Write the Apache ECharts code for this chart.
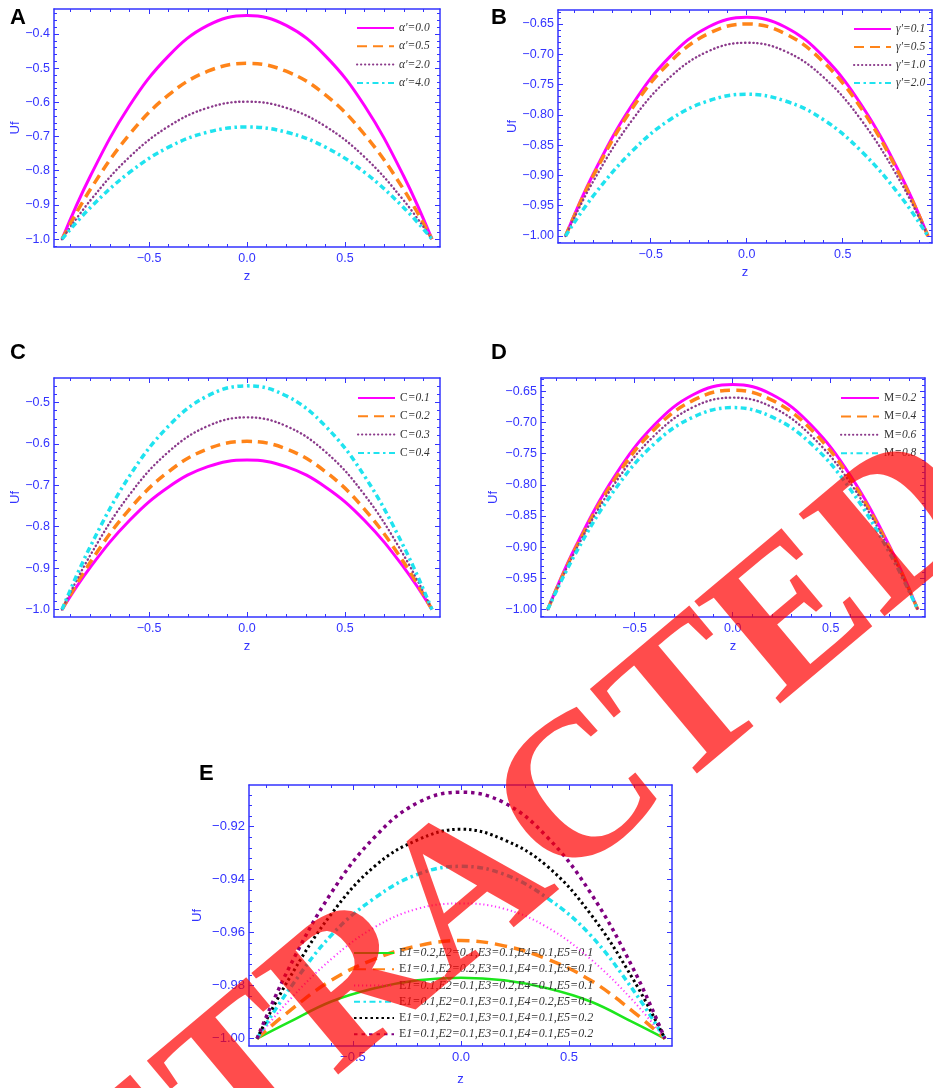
<!DOCTYPE html>
<html>
<head>
<meta charset="UTF-8">
<title>Uf profiles</title>
<script src="https://cdn.jsdelivr.net/npm/echarts@6/dist/echarts.min.js"></script>
<style>
html, body { margin: 0; padding: 0; background: #fff; }
#main { width: 933px; height: 1088px; }
</style>
</head>
<body>
<div id="main"></div>
<script>
var zPts = [-0.944, -0.8, -0.6, -0.4, -0.2, 0, 0.2, 0.4, 0.6, 0.8, 0.944];

// A : alpha'
var alphaNames = ["α'=0.0", "α'=0.5", "α'=2.0", "α'=4.0"];
var ufAlpha00 = [-1.0, -0.816, -0.610, -0.464, -0.375, -0.346, -0.375, -0.464, -0.610, -0.816, -1.0];
var ufAlpha05 = [-1.0, -0.855, -0.694, -0.578, -0.509, -0.486, -0.509, -0.578, -0.694, -0.855, -1.0];
var ufAlpha20 = [-1.0, -0.887, -0.760, -0.670, -0.616, -0.598, -0.616, -0.670, -0.760, -0.887, -1.0];
var ufAlpha40 = [-1.0, -0.908, -0.805, -0.731, -0.687, -0.672, -0.687, -0.731, -0.805, -0.908, -1.0];

// B : gamma'
var gammaNames = ["γ'=0.1", "γ'=0.5", "γ'=1.0", "γ'=2.0"];
var ufGamma01 = [-1.0, -0.898, -0.785, -0.704, -0.655, -0.639, -0.655, -0.704, -0.785, -0.898, -1.0];
var ufGamma05 = [-1.0, -0.901, -0.791, -0.713, -0.666, -0.650, -0.666, -0.713, -0.791, -0.901, -1.0];
var ufGamma10 = [-1.0, -0.910, -0.810, -0.738, -0.695, -0.681, -0.695, -0.738, -0.810, -0.910, -1.0];
var ufGamma20 = [-1.0, -0.934, -0.861, -0.808, -0.777, -0.766, -0.777, -0.808, -0.861, -0.934, -1.0];

// C
var cNames = ["C=0.1", "C=0.2", "C=0.3", "C=0.4"];
var ufC01 = [-1.0, -0.898, -0.785, -0.704, -0.655, -0.639, -0.655, -0.704, -0.785, -0.898, -1.0];
var ufC02 = [-1.0, -0.886, -0.758, -0.667, -0.612, -0.594, -0.612, -0.667, -0.758, -0.886, -1.0];
var ufC03 = [-1.0, -0.869, -0.723, -0.619, -0.557, -0.536, -0.557, -0.619, -0.723, -0.869, -1.0];
var ufC04 = [-1.0, -0.848, -0.678, -0.557, -0.484, -0.460, -0.484, -0.557, -0.678, -0.848, -1.0];

// D : M
var mNames = ["M=0.2", "M=0.4", "M=0.6", "M=0.8"];
var ufM02 = [-1.0, -0.898, -0.785, -0.704, -0.655, -0.639, -0.655, -0.704, -0.785, -0.898, -1.0];
var ufM04 = [-1.0, -0.901, -0.790, -0.711, -0.664, -0.648, -0.664, -0.711, -0.790, -0.901, -1.0];
var ufM06 = [-1.0, -0.904, -0.797, -0.721, -0.675, -0.660, -0.675, -0.721, -0.797, -0.904, -1.0];
var ufM08 = [-1.0, -0.909, -0.807, -0.734, -0.691, -0.676, -0.691, -0.734, -0.807, -0.909, -1.0];

// E : E1..E5 (last two labels are identical in the original, the trailing space keeps them apart)
var eNames = [
  "E1=0.2,E2=0.1,E3=0.1,E4=0.1,E5=0.1",
  "E1=0.1,E2=0.2,E3=0.1,E4=0.1,E5=0.1",
  "E1=0.1,E2=0.1,E3=0.2,E4=0.1,E5=0.1",
  "E1=0.1,E2=0.1,E3=0.1,E4=0.2,E5=0.1",
  "E1=0.1,E2=0.1,E3=0.1,E4=0.1,E5=0.2",
  "E1=0.1,E2=0.1,E3=0.1,E4=0.1,E5=0.2 "
];
var ufE1 = [-1.0, -0.994, -0.986, -0.981, -0.978, -0.977, -0.978, -0.981, -0.986, -0.994, -1.0];
var ufE2 = [-1.0, -0.990, -0.978, -0.970, -0.965, -0.963, -0.965, -0.970, -0.978, -0.990, -1.0];
var ufE3 = [-1.0, -0.986, -0.970, -0.958, -0.951, -0.949, -0.951, -0.958, -0.970, -0.986, -1.0];
var ufE4 = [-1.0, -0.982, -0.961, -0.947, -0.938, -0.935, -0.938, -0.947, -0.961, -0.982, -1.0];
var ufE5 = [-1.0, -0.978, -0.953, -0.935, -0.925, -0.921, -0.925, -0.935, -0.953, -0.978, -1.0];
var ufE6 = [-1.0, -0.974, -0.945, -0.924, -0.911, -0.907, -0.911, -0.924, -0.945, -0.974, -1.0];

// tick labels
var xTicks = [-0.5, 0, 0.5];
var yTicksA = [-1.0, -0.9, -0.8, -0.7, -0.6, -0.5, -0.4];
var yTicksB = [-1.0, -0.95, -0.9, -0.85, -0.8, -0.75, -0.7, -0.65];
var yTicksC = [-1.0, -0.9, -0.8, -0.7, -0.6, -0.5];
var yTicksD = [-1.0, -0.95, -0.9, -0.85, -0.8, -0.75, -0.7, -0.65];
var yTicksE = [-1.0, -0.98, -0.96, -0.94, -0.92];

var blue = '#3333ff';
var cMag = '#ff00ff', cOra = '#ff8419', cPur = '#8b3a8b', cCya = '#1fe3ef';

// line styles
var sSolid = { type: 'solid', width: 3 };
var sDash = { type: [10, 6], width: 3.5 };
var sDot = { type: [0.3, 3.7], width: 2.4, cap: 'round' };
var sDashDot = { type: [6, 3.5, 2.5, 3.5], width: 3.5 };

var panels = [
  { letter: 'A', names: alphaNames, data: [ufAlpha00, ufAlpha05, ufAlpha20, ufAlpha40],
    colors: [cMag, cOra, cPur, cCya], styles: [sSolid, sDash, sDot, sDashDot],
    yTicks: yTicksA, yDec: 1, yStep: 0.02, rich: false,
    grid: { left: 54, top: 9, width: 386, height: 238 }, x: [-0.985, 0.985], y: [-1.023, -0.327],
    leg: { left: 356, top: 22, w: 37, gap: 18.3, fs: 11.5 }, lab: [10, 7], zGap: 23, ufGap: 32.5, fs: 12.5 },
  { letter: 'B', names: gammaNames, data: [ufGamma01, ufGamma05, ufGamma10, ufGamma20],
    colors: [cMag, cOra, cPur, cCya], styles: [sSolid, sDash, sDot, sDashDot],
    yTicks: yTicksB, yDec: 2, yStep: 0.01, rich: false,
    grid: { left: 558, top: 10, width: 374, height: 233 }, x: [-0.983, 0.965], y: [-1.0115, -0.627],
    leg: { left: 853, top: 23, w: 37, gap: 18, fs: 11.5 }, lab: [491, 7], zGap: 23, ufGap: 37, fs: 12.5 },
  { letter: 'C', names: cNames, data: [ufC01, ufC02, ufC03, ufC04],
    colors: [cMag, cOra, cPur, cCya], styles: [sSolid, sDash, sDot, sDashDot],
    yTicks: yTicksC, yDec: 1, yStep: 0.02, rich: true,
    grid: { left: 54, top: 378, width: 386, height: 239 }, x: [-0.985, 0.985], y: [-1.018, -0.441],
    leg: { left: 357, top: 392, w: 37, gap: 18.3, fs: 11.5 }, lab: [10, 342], zGap: 23, ufGap: 32.5, fs: 12.5 },
  { letter: 'D', names: mNames, data: [ufM02, ufM04, ufM06, ufM08],
    colors: [cMag, cOra, cPur, cCya], styles: [sSolid, sDash, sDot, sDashDot],
    yTicks: yTicksD, yDec: 2, yStep: 0.01, rich: true,
    grid: { left: 541, top: 378, width: 384, height: 239 }, x: [-0.978, 0.981], y: [-1.012, -0.6285],
    leg: { left: 840, top: 392, w: 38, gap: 18.4, fs: 11.5 }, lab: [491, 342], zGap: 23, ufGap: 41, fs: 12.5 },
  { letter: 'E', names: eNames, data: [ufE1, ufE2, ufE3, ufE4, ufE5, ufE6],
    colors: ['#1de61d', cOra, '#ff33ff', cCya, '#000000', '#800080'],
    styles: [{ type: 'solid', width: 2.5 }, { type: [12, 7], width: 3.5 },
             { type: [1.2, 2.8], width: 2 }, { type: [6, 3.5, 2.5, 3.5], width: 3.5 },
             { type: [2.5, 3], width: 3 }, { type: [3.5, 4], width: 3.5 }],
    yTicks: yTicksE, yDec: 2, yStep: 0.004, rich: true,
    grid: { left: 249, top: 785, width: 423, height: 261 }, x: [-0.981, 0.977], y: [-1.0028, -0.9043],
    leg: { left: 353, top: 947, w: 40, gap: 16.25, fs: 12 }, lab: [199, 763], zGap: 27, ufGap: 45, fs: 13 }
];

function fmt(d) {
  return function (v) {
    return (v < -1e-9 ? '\u2212' : '') + Math.abs(v).toFixed(d);
  };
}
function minors(lo, hi, step) {
  var out = [];
  var n0 = Math.ceil(lo / step - 1e-6), n1 = Math.floor(hi / step + 1e-6);
  for (var n = n0; n <= n1; n++) out.push(+(n * step).toFixed(4));
  return out;
}

var grids = [], xAxes = [], yAxes = [], series = [], legends = [], graphics = [];

panels.forEach(function (p, gi) {
  grids.push({ left: p.grid.left, top: p.grid.top, width: p.grid.width, height: p.grid.height, show: false });

  var xMinor = minors(-0.9, 0.9, 0.1);
  var yMinor = minors(p.y[0], p.y[1], p.yStep);

  function ax(pos, major, minor, isX, withLabels) {
    var lo = isX ? p.x[0] : p.y[0], hi = isX ? p.x[1] : p.y[1];
    var main = {
      type: 'value', gridIndex: gi, position: pos, min: lo, max: hi,
      axisLine: { show: true, onZero: false, lineStyle: { color: blue, width: 1.5 } },
      axisTick: { show: true, inside: true, length: 5, customValues: major, lineStyle: { color: blue, width: 1 } },
      axisLabel: { show: withLabels, customValues: major, formatter: fmt(isX ? 1 : p.yDec),
                   color: blue, fontSize: p.fs, fontFamily: 'Liberation Sans', margin: isX ? 5 : 4 },
      splitLine: { show: false }
    };
    if (withLabels) {
      main.name = isX ? 'z' : 'Uf';
      main.nameLocation = 'middle';
      main.nameGap = isX ? p.zGap : p.ufGap;
      main.nameTextStyle = { color: blue, fontSize: 13, fontFamily: 'Liberation Sans' };
    }
    var sub = {
      type: 'value', gridIndex: gi, position: pos, min: lo, max: hi,
      axisLine: { show: false, onZero: false },
      axisTick: { show: true, inside: true, length: 3, customValues: minor, lineStyle: { color: blue, width: 1 } },
      axisLabel: { show: false }, splitLine: { show: false }
    };
    return [main, sub];
  }
  xAxes = xAxes.concat(ax('bottom', xTicks, xMinor, true, true), ax('top', xTicks, xMinor, true, false));
  yAxes = yAxes.concat(ax('left', p.yTicks, yMinor, false, true), ax('right', p.yTicks, yMinor, false, false));

  p.names.forEach(function (nm, si) {
    var st = p.styles[si];
    series.push({
      type: 'line', name: nm, xAxisIndex: gi * 4, yAxisIndex: gi * 4,
      data: zPts.map(function (z, i) { return [z, p.data[si][i]]; }),
      smooth: 0.4, symbol: 'none', showSymbol: false, silent: true,
      itemStyle: { color: p.colors[si] },
      lineStyle: { color: p.colors[si], width: st.width, type: st.type, cap: st.cap || 'butt' },
      z: 2 + si
    });
  });

  var rich = {
    u: { fontStyle: 'normal', fontFamily: 'Liberation Serif', fontSize: p.leg.fs, color: '#333', lineHeight: 12 },
    i: { fontStyle: 'italic', fontFamily: 'Liberation Serif', fontSize: p.leg.fs, color: '#333', lineHeight: 12 }
  };
  legends.push({
    data: p.names.slice(), orient: 'vertical', left: p.leg.left, top: p.leg.top, padding: 0,
    itemWidth: p.leg.w, itemHeight: 12, itemGap: p.leg.gap - 12, selectedMode: false,
    lineStyle: { width: 2 },
    itemStyle: { opacity: 0 },
    formatter: p.rich
      ? function (name) { return '{u|' + name.charAt(0) + '}{i|' + name.slice(1) + '}'; }
      : function (name) { return '{i|' + name + '}'; },
    textStyle: { rich: rich, lineHeight: 12 }
  });

  graphics.push({
    type: 'text', left: p.lab[0], top: p.lab[1],
    style: { text: p.letter, font: 'bold 22px "Liberation Sans"', fill: '#000' }
  });
});

// retraction stamp over the figure
graphics.push({
  type: 'text', x: 470, y: 895, rotation: 40 * Math.PI / 180, z: 100,
  style: { text: 'RETRACTED', font: 'bold 204px "Liberation Serif"', fill: 'rgba(255,0,0,0.7)',
           align: 'center', verticalAlign: 'middle' }
});

var myChart = echarts.init(document.getElementById('main'), null, { renderer: 'canvas' });
myChart.setOption({
  animation: false,
  backgroundColor: '#fff',
  grid: grids,
  xAxis: xAxes,
  yAxis: yAxes,
  legend: legends,
  series: series,
  graphic: graphics
});
</script>
</body>
</html>
